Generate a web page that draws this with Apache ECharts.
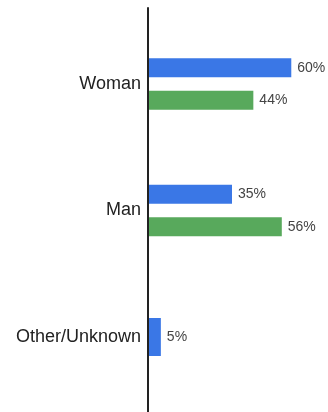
<!DOCTYPE html>
<html>
<head>
<meta charset="utf-8">
<script src="https://cdn.jsdelivr.net/npm/echarts@6/dist/echarts.min.js"></script>
<style>
  html, body { margin: 0; padding: 0; background: #fff; }
  #chart { width: 328px; height: 412px; }
</style>
</head>
<body>
<div id="chart"></div>
<script>
// Gender breakdown, two groups compared side by side
const categories = ['Woman', 'Man', 'Other/Unknown'];
const blueValues = [60, 35, null];
const greenValues = [44, 56, null];
// the single remaining category only has a blue value
const otherValues = [null, null, 5];

const BLUE = '#3A77E6';
const GREEN = '#58A95C';
const FONT = '"Liberation Sans", Arial, sans-serif';

const valueLabel = {
  show: true,
  position: 'right',
  distance: 6,
  fontSize: 14,
  fontFamily: FONT,
  color: '#444',
  formatter: p => (p.value == null ? '' : p.value + '%')
};

const chart = echarts.init(document.getElementById('chart'), null, { renderer: 'canvas' });

chart.setOption({
  animation: false,
  backgroundColor: '#fff',
  grid: [
    { left: 149, right: 13, top: 20.75, bottom: 11.75 },
    // tall grid that only carries the vertical baseline
    { left: 148, right: 13, top: 8, bottom: 0 }
  ],
  xAxis: [
    { type: 'value', gridIndex: 0, min: 0, max: 70, show: false },
    { type: 'value', gridIndex: 1, min: 0, max: 1, show: false }
  ],
  yAxis: [
    {
      type: 'category', gridIndex: 0, data: categories, inverse: true,
      axisLine: { show: false }, axisTick: { show: false },
      axisLabel: { margin: 8, fontSize: 18, fontFamily: FONT, color: '#222' }
    },
    {
      type: 'category', gridIndex: 0, data: categories, inverse: true, show: false
    },
    {
      type: 'value', gridIndex: 1, min: 0, max: 1,
      axisLine: { show: true, lineStyle: { color: '#222', width: 2 } },
      axisTick: { show: false }, axisLabel: { show: false }, splitLine: { show: false }
    }
  ],
  series: [
    {
      type: 'bar', xAxisIndex: 0, yAxisIndex: 0, data: blueValues,
      barWidth: 19, barGap: '70%',
      itemStyle: { color: BLUE }, label: valueLabel
    },
    {
      type: 'bar', xAxisIndex: 0, yAxisIndex: 0, data: greenValues,
      barWidth: 19, barGap: '70%',
      itemStyle: { color: GREEN }, label: valueLabel
    },
    {
      type: 'bar', xAxisIndex: 0, yAxisIndex: 1, data: otherValues,
      barWidth: 38,
      itemStyle: { color: BLUE }, label: valueLabel
    }
  ]
});
</script>
</body>
</html>
